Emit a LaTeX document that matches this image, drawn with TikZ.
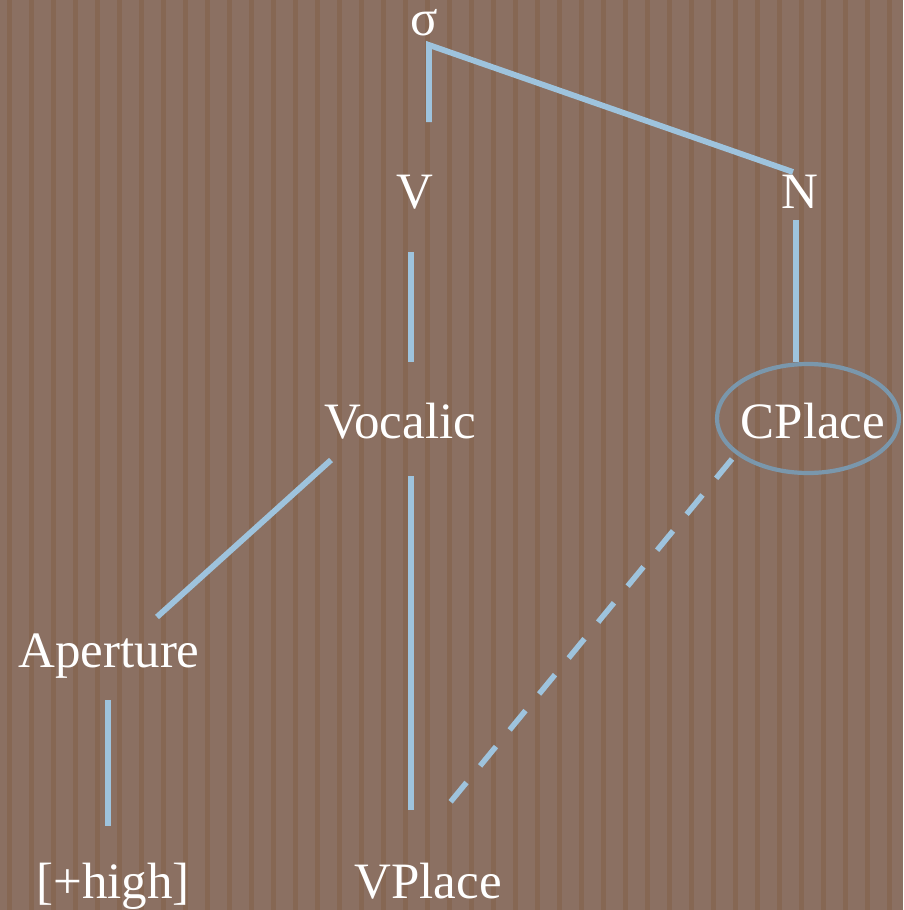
\documentclass[tikz,border=0pt]{standalone}
\usepackage{fontspec}
\setmainfont{Liberation Serif}
\usetikzlibrary{calc}
\definecolor{bgbrown}{HTML}{8B7062}
\definecolor{stripebrown}{HTML}{866753}
\definecolor{edgeblue}{HTML}{9EC3DD}
\definecolor{ringblue}{HTML}{7A97AC}
\tikzset{
  lbl/.style={anchor=base, inner sep=0pt, text=white, font=\fontsize{51}{61}\selectfont},
  edge/.style={draw=edgeblue, line width=5.8pt},
  dashedge/.style={edge, line width=5.5pt, dash pattern=on 25pt off 21.5pt},
  ring/.style={draw=ringblue, line width=4.2pt}
}
\begin{document}
\begin{tikzpicture}[x=1pt,y=-1pt]
\useasboundingbox (0,0) rectangle (903,910);
\fill[bgbrown] (0,0) rectangle (903,910);
\foreach \k in {0,...,41}{
  \fill[stripebrown] ({7+22*\k},0) rectangle ({12+22*\k},910);
}
% nodes
\node[lbl] (sigma) at (424,35) {σ};
\node[lbl] (V) at (415,208) {V};
\node[lbl] (N) at (800,208) {N};
\node[lbl] (Vocalic) at (400,438) {Vocalic};
\node[lbl] (CPlace) at (813,438) {CPlace};
\node[lbl] (Aperture) at (109,667) {Aperture};
\node[lbl] (high) at (113,898) {[+high]};
\node[lbl] (VPlace) at (428,898) {VPlace};
% ellipse around CPlace
\draw[ring] ($(CPlace.base)+(-5,-19.5)$) ellipse [x radius=91, y radius=54.5];
% connectors
\draw[edge] ($(sigma.base)+(5,87)$) -- ($(sigma.base)+(5,10)$) -- ($(N.base)+(-7,-36)$);
\draw[edge] ($(V.base)+(-4,44)$) -- ($(Vocalic.base)+(11,-76)$);
\draw[edge] ($(N.base)+(-4,12)$) -- ($(CPlace.base)+(-17,-76)$);
\draw[edge] ($(Vocalic.base)+(-69,22)$) -- ($(Aperture.base)+(48,-50)$);
\draw[edge] ($(Vocalic.base)+(11,38)$) -- ($(VPlace.base)+(-17,-88)$);
\draw[edge] ($(Aperture.base)+(-1,33)$) -- ($(high.base)+(-5,-72)$);
\draw[dashedge] ($(CPlace.base)+(-81,21)$) -- ($(VPlace.base)+(20,-93)$);
\end{tikzpicture}
\end{document}
